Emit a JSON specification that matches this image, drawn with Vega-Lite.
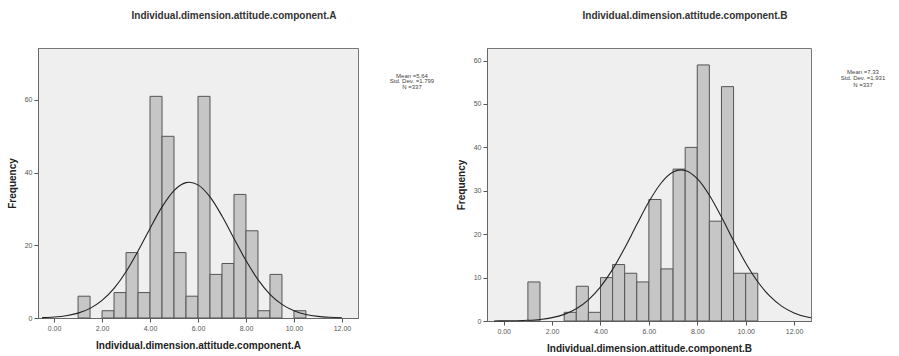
{
  "$schema": "https://vega.github.io/schema/vega-lite/v6.json",
  "background": "white",
  "padding": {"left": 6, "top": 10, "right": 5, "bottom": 5},
  "spacing": 129,
  "bounds": "flush",
  "config": {
    "font": "Liberation Sans",
    "view": {"fill": "#efefef", "stroke": "#777", "strokeWidth": 1},
    "axis": {"grid": false, "labelFont": "Liberation Sans", "labelFontSize": 7, "labelColor": "#555", "tickColor": "#555", "tickSize": 4, "domainColor": "#666", "titleFont": "Liberation Sans", "titleFontSize": 10, "titleFontWeight": "bold", "titleColor": "#222", "labelPadding": 2},
    "axisX": {"titlePadding": 9},
    "title": {"font": "Liberation Sans", "fontSize": 10, "fontWeight": "bold", "color": "#333", "offset": 27}
  },
  "datasets": {
    "barsA": [
      {"bin_start": 1.0, "bin_end": 1.5, "count": 6},
      {"bin_start": 2.0, "bin_end": 2.5, "count": 2},
      {"bin_start": 2.5, "bin_end": 3.0, "count": 7},
      {"bin_start": 3.0, "bin_end": 3.5, "count": 18},
      {"bin_start": 3.5, "bin_end": 4.0, "count": 7},
      {"bin_start": 4.0, "bin_end": 4.5, "count": 61},
      {"bin_start": 4.5, "bin_end": 5.0, "count": 50},
      {"bin_start": 5.0, "bin_end": 5.5, "count": 18},
      {"bin_start": 5.5, "bin_end": 6.0, "count": 6},
      {"bin_start": 6.0, "bin_end": 6.5, "count": 61},
      {"bin_start": 6.5, "bin_end": 7.0, "count": 12},
      {"bin_start": 7.0, "bin_end": 7.5, "count": 15},
      {"bin_start": 7.5, "bin_end": 8.0, "count": 34},
      {"bin_start": 8.0, "bin_end": 8.5, "count": 24},
      {"bin_start": 8.5, "bin_end": 9.0, "count": 2},
      {"bin_start": 9.0, "bin_end": 9.5, "count": 12},
      {"bin_start": 10.0, "bin_end": 10.5, "count": 2}
    ],
    "curveA": [
      {"x": -0.5, "y": 0.11}, {"x": 0.0, "y": 0.27}, {"x": 0.5, "y": 0.63}, {"x": 1.0, "y": 1.34},
      {"x": 1.5, "y": 2.65}, {"x": 2.0, "y": 4.83}, {"x": 2.5, "y": 8.15}, {"x": 3.0, "y": 12.73},
      {"x": 3.5, "y": 18.42}, {"x": 4.0, "y": 24.66}, {"x": 4.5, "y": 30.57}, {"x": 5.0, "y": 35.08},
      {"x": 5.5, "y": 37.26}, {"x": 5.64, "y": 37.37}, {"x": 6.0, "y": 36.63}, {"x": 6.5, "y": 33.33},
      {"x": 7.0, "y": 28.08}, {"x": 7.5, "y": 21.9}, {"x": 8.0, "y": 15.81}, {"x": 8.5, "y": 10.56},
      {"x": 9.0, "y": 6.53}, {"x": 9.5, "y": 3.74}, {"x": 10.0, "y": 1.98}, {"x": 10.5, "y": 0.97},
      {"x": 11.0, "y": 0.44}, {"x": 11.5, "y": 0.19}, {"x": 12.0, "y": 0.07}
    ],
    "statsA": [{"label": "Mean =5.64\nStd. Dev. =1.799\nN =337"}],
    "barsB": [
      {"bin_start": 1.0, "bin_end": 1.5, "count": 9},
      {"bin_start": 2.5, "bin_end": 3.0, "count": 2},
      {"bin_start": 3.0, "bin_end": 3.5, "count": 8},
      {"bin_start": 3.5, "bin_end": 4.0, "count": 2},
      {"bin_start": 4.0, "bin_end": 4.5, "count": 10},
      {"bin_start": 4.5, "bin_end": 5.0, "count": 13},
      {"bin_start": 5.0, "bin_end": 5.5, "count": 11},
      {"bin_start": 5.5, "bin_end": 6.0, "count": 9},
      {"bin_start": 6.0, "bin_end": 6.5, "count": 28},
      {"bin_start": 6.5, "bin_end": 7.0, "count": 12},
      {"bin_start": 7.0, "bin_end": 7.5, "count": 35},
      {"bin_start": 7.5, "bin_end": 8.0, "count": 40},
      {"bin_start": 8.0, "bin_end": 8.5, "count": 59},
      {"bin_start": 8.5, "bin_end": 9.0, "count": 23},
      {"bin_start": 9.0, "bin_end": 9.5, "count": 54},
      {"bin_start": 9.5, "bin_end": 10.0, "count": 11},
      {"bin_start": 10.0, "bin_end": 10.5, "count": 11}
    ],
    "curveB": [
      {"x": -0.4, "y": 0.01}, {"x": 0.0, "y": 0.03}, {"x": 0.5, "y": 0.07}, {"x": 1.0, "y": 0.16},
      {"x": 1.5, "y": 0.36}, {"x": 2.0, "y": 0.77}, {"x": 2.5, "y": 1.53}, {"x": 3.0, "y": 2.82},
      {"x": 3.5, "y": 4.87}, {"x": 4.0, "y": 7.87}, {"x": 4.5, "y": 11.89}, {"x": 5.0, "y": 16.81},
      {"x": 5.5, "y": 22.22}, {"x": 6.0, "y": 27.46}, {"x": 6.5, "y": 31.74}, {"x": 7.0, "y": 34.31},
      {"x": 7.33, "y": 34.81}, {"x": 7.5, "y": 34.68}, {"x": 8.0, "y": 32.78}, {"x": 8.5, "y": 28.97},
      {"x": 9.0, "y": 23.95}, {"x": 9.5, "y": 18.51}, {"x": 10.0, "y": 13.38}, {"x": 10.5, "y": 9.05},
      {"x": 11.0, "y": 5.72}, {"x": 11.5, "y": 3.38}, {"x": 12.0, "y": 1.87}, {"x": 12.5, "y": 0.97},
      {"x": 12.7, "y": 0.74}
    ],
    "statsB": [{"label": "Mean =7.33\nStd. Dev. =1.931\nN =337"}]
  },
  "hconcat": [
    {
      "width": 320,
      "height": 270,
      "title": {"text": "Individual.dimension.attitude.component.A", "dx": 36},
      "layer": [
        {
          "data": {"name": "barsA"},
          "mark": {"type": "bar", "fill": "#c6c6c6", "stroke": "#555", "strokeWidth": 1},
          "encoding": {
            "x": {"field": "bin_start", "type": "quantitative", "scale": {"domain": [-0.67, 12.67], "nice": false, "zero": false}, "axis": {"values": [0, 2, 4, 6, 8, 10, 12], "format": ".2f", "title": "Individual.dimension.attitude.component.A"}},
            "x2": {"field": "bin_end"},
            "y": {"field": "count", "type": "quantitative", "scale": {"domain": [0, 74.3], "nice": false}, "axis": {"values": [0, 20, 40, 60], "title": "Frequency", "titlePadding": 7}},
            "y2": {"datum": 0}
          }
        },
        {
          "data": {"name": "curveA"},
          "mark": {"type": "line", "color": "#222", "strokeWidth": 1.1, "interpolate": "monotone"},
          "encoding": {
            "x": {"field": "x", "type": "quantitative"},
            "y": {"field": "y", "type": "quantitative"}
          }
        },
        {
          "data": {"name": "statsA"},
          "mark": {"type": "text", "fontSize": 6, "lineBreak": "\n", "lineHeight": 5.5, "color": "#444", "align": "center", "baseline": "middle"},
          "encoding": {
            "x": {"datum": 14.92},
            "y": {"datum": 66.6},
            "text": {"field": "label"}
          }
        }
      ]
    },
    {
      "width": 324,
      "height": 273,
      "title": {"text": "Individual.dimension.attitude.component.B", "dx": 36},
      "layer": [
        {
          "data": {"name": "barsB"},
          "mark": {"type": "bar", "fill": "#c6c6c6", "stroke": "#555", "strokeWidth": 1},
          "encoding": {
            "x": {"field": "bin_start", "type": "quantitative", "scale": {"domain": [-0.69, 12.7], "nice": false, "zero": false}, "axis": {"values": [0, 2, 4, 6, 8, 10, 12], "format": ".2f", "title": "Individual.dimension.attitude.component.B"}},
            "x2": {"field": "bin_end"},
            "y": {"field": "count", "type": "quantitative", "scale": {"domain": [0, 62.9], "nice": false}, "axis": {"values": [0, 10, 20, 30, 40, 50, 60], "title": "Frequency", "titlePadding": 7}},
            "y2": {"datum": 0}
          }
        },
        {
          "data": {"name": "curveB"},
          "mark": {"type": "line", "color": "#222", "strokeWidth": 1.1, "interpolate": "monotone"},
          "encoding": {
            "x": {"field": "x", "type": "quantitative"},
            "y": {"field": "y", "type": "quantitative"}
          }
        },
        {
          "data": {"name": "statsB"},
          "mark": {"type": "text", "fontSize": 6, "lineBreak": "\n", "lineHeight": 6.5, "color": "#444", "align": "center", "baseline": "middle"},
          "encoding": {
            "x": {"datum": 14.85},
            "y": {"datum": 57.4},
            "text": {"field": "label"}
          }
        }
      ]
    }
  ]
}
